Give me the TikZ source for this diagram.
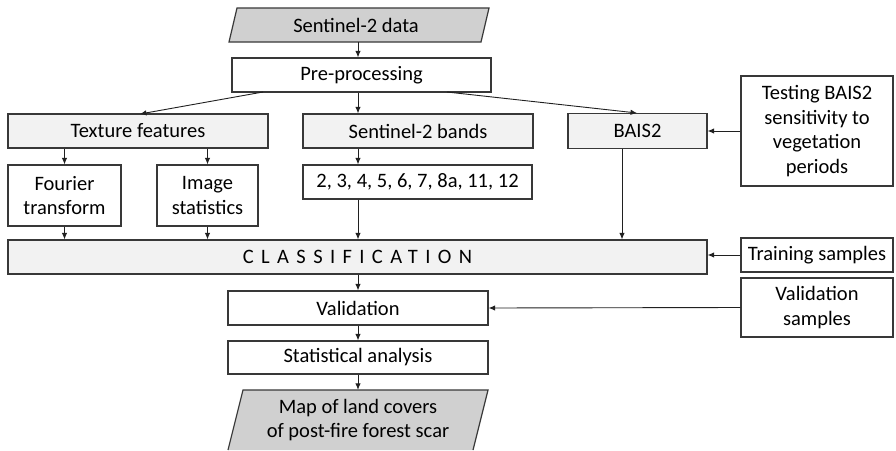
\documentclass[tikz,border=0pt]{standalone}
\usepackage{fontspec}
\setmainfont{Carlito}
\usetikzlibrary{arrows.meta}
\definecolor{bordc}{HTML}{383838}
\definecolor{lightg}{HTML}{F2F2F2}
\definecolor{darkg}{HTML}{D0D0D0}
\definecolor{arrc}{HTML}{202020}
\tikzset{
  box/.style={draw=bordc, line width=1.2pt, fill=white, inner sep=0pt, align=center, font=\fontsize{20.5}{24.5}\selectfont, text=black},
  gbox/.style={box, fill=lightg},
  para/.style={fill=darkg, draw=bordc, line width=1.2pt},
  plain/.style={inner sep=0pt, align=center, font=\fontsize{20.5}{24.5}\selectfont, text=black},
  arr/.style={-{Latex[length=6.5pt,width=5.5pt]}, line width=0.9pt, draw=arrc}
}
\begin{document}
\begin{tikzpicture}[x=1pt,y=-1pt]
\useasboundingbox (0,0) rectangle (896,450);
% Sentinel-2 data parallelogram
\path[para] (237,8) -- (489,8) -- (481,42) -- (229,42) -- cycle;
\node[plain, minimum width=240pt, minimum height=34pt] (data) at (356,25) {Sentinel-2 data};
\node[box, minimum width=259pt, minimum height=34pt] (pre) at (361.5,75) {Pre-processing};
\node[gbox, minimum width=260pt, minimum height=34pt] (tex) at (138,131) {Texture features};
\node[gbox, minimum width=230pt, minimum height=34pt] (bands) at (418,131) {Sentinel-2 bands};
\node[gbox, minimum width=139pt, minimum height=35pt] (bais) at (637.5,131) {BAIS2};
\node[box, minimum width=152pt, minimum height=110pt] (test) at (817,131) {Testing BAIS2\\sensitivity to\\vegetation\\periods};
\node[box, minimum width=113pt, minimum height=61pt] (four) at (64.5,195.5) {Fourier\\transform};
\node[box, minimum width=101pt, minimum height=61pt] (imst) at (207.5,195.5) {Image\\statistics};
\node[box, minimum width=229pt, minimum height=34pt] (nums) at (417.5,182) {2, 3, 4, 5, 6, 7, 8a, 11, 12};
\node[gbox, minimum width=699pt, minimum height=34pt] (cls) at (357.5,257) {\addfontfeature{LetterSpace=36}CLASSIFICATION};
\node[box, minimum width=152pt, minimum height=34pt] (train) at (817,255) {Training samples};
\node[box, minimum width=152pt, minimum height=59pt] (vals) at (817,307.5) {Validation\\samples};
\node[box, minimum width=260pt, minimum height=34pt] (val) at (358,308) {Validation};
\node[box, minimum width=260pt, minimum height=33pt] (stat) at (358,357.5) {Statistical analysis};
% Map parallelogram (cut by the lower edge)
\fill[darkg] (243,390) -- (488,390) -- (473,450) -- (228,450) -- cycle;
\draw[bordc, line width=1.2pt] (228,450) -- (243,390) -- (488,390) -- (473,450);
\node[plain, minimum width=230pt, minimum height=60pt] (map) at (358,420) {Map of land covers\\of post-fire forest scar};
% column coordinates
\coordinate (c1) at (358,0);
\coordinate (c2) at (622,0);
\coordinate (pl) at (263,92);
\coordinate (pr) at (447,92);
\coordinate (tl) at (140,114);
\coordinate (tr) at (637,113);
% connectors
\draw[arr] (data.south -| c1) -- (pre.north -| c1);
\draw[arr] (pre.south -| c1) -- (bands.north -| c1);
\draw[arr] (pl) -- (tl);
\draw[arr] (pr) -- (tr);
\draw[arr] (tex.south -| four) -- (four.north);
\draw[arr] (tex.south -| imst) -- (imst.north);
\draw[arr] (bands.south -| c1) -- (nums.north -| c1);
\draw[arr] (four.south) -- (cls.north -| four);
\draw[arr] (imst.south) -- (cls.north -| imst);
\draw[arr] (nums.south -| c1) -- (cls.north -| c1);
\draw[arr] (bais.south -| c2) -- (cls.north -| c2);
\draw[arr] (test.west) -- (bais.east);
\draw[arr] (train.west) -- (cls.east |- train.west);
\draw[arr] (cls.south -| c1) -- (val.north -| c1);
\draw[arr] (vals.west) -- (val.east);
\draw[arr] (val.south -| c1) -- (stat.north -| c1);
\draw[arr] (stat.south -| c1) -- (map.north -| c1);
\end{tikzpicture}
\end{document}
